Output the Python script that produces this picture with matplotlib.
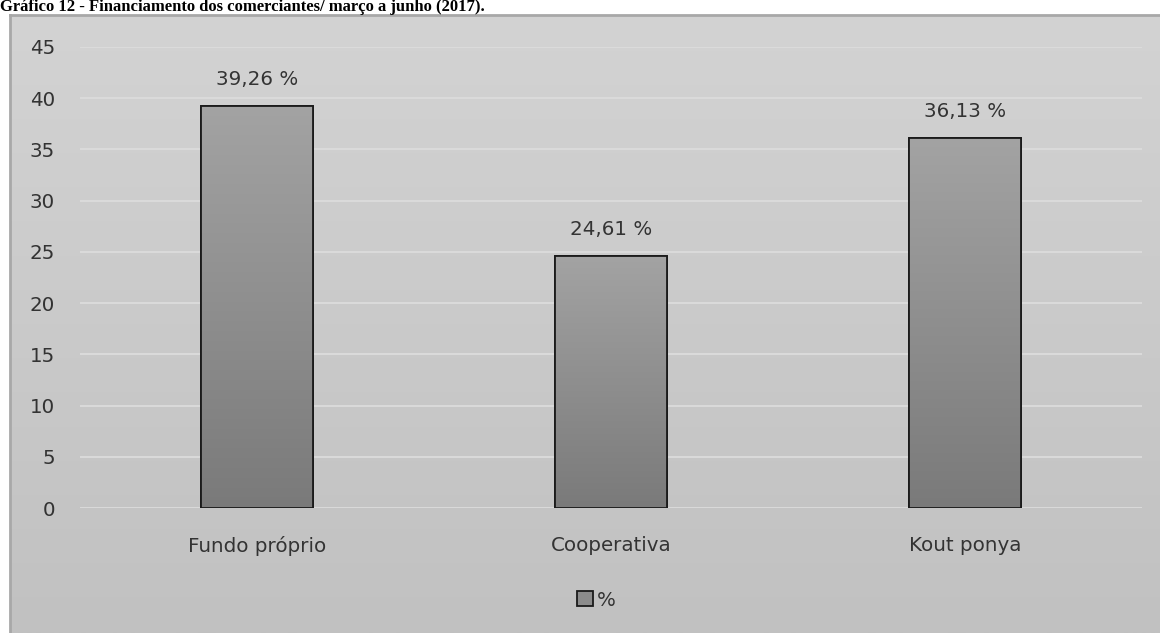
import numpy as np
import matplotlib
matplotlib.use("Agg")
import matplotlib.pyplot as plt
from matplotlib.patches import Rectangle, Patch

categories = ["Fundo próprio", "Cooperativa", "Kout ponya"]
values = [39.26, 24.61, 36.13]
value_labels = ["39,26 %", "24,61 %", "36,13 %"]
yticks = [0, 5, 10, 15, 20, 25, 30, 35, 40, 45]
title = "Gráfico 12 - Financiamento dos comerciantes/ março a junho (2017)."
legend_label = "%"

W, H = 1160, 633
fig = plt.figure(figsize=(W / 100, H / 100), dpi=100)
fig.patch.set_facecolor("white")

# chart background (gradient panel with border)
bg = fig.add_axes([10 / W, 0, 1 - 10 / W, 1 - 15 / H])
grad = np.linspace(0, 1, 256).reshape(-1, 1)
bg.imshow(grad, aspect="auto", cmap=matplotlib.colors.LinearSegmentedColormap.from_list(
    "bg", ["#d3d3d3", "#c1c1c1"]), extent=[0, 1, 0, 1], origin="upper")
bg.set_xlim(0, 1)
bg.set_ylim(0, 1)
bg.set_xticks([])
bg.set_yticks([])
for s in ["top", "left"]:
    bg.spines[s].set_color("#a8a8a8")
    bg.spines[s].set_linewidth(2)
for s in ["right", "bottom"]:
    bg.spines[s].set_visible(False)

# title above the chart panel
fig.text(0.0, 1 - 11 / H, title, family="Liberation Serif", fontweight="bold",
         fontsize=12, ha="left", va="baseline", color="black")

# plot area
x0, x1 = 80, 1142
y45, y0 = 47, 508
ax = fig.add_axes([x0 / W, 1 - y0 / H, (x1 - x0) / W, (y0 - y45) / H])
ax.set_facecolor("none")
ax.set_xlim(-0.5, len(categories) - 0.5)
ax.set_ylim(0, 45)
for t in yticks:
    ax.axhline(t, color="#dcdcdc", lw=1.3, zorder=0)

fs = 14.3
xs = np.arange(len(categories))
bars = ax.bar(xs, values, width=0.315, color="#8c8c8c", edgecolor="#1a1a1a", lw=1.3, zorder=2)
bar_cmap = matplotlib.colors.LinearSegmentedColormap.from_list("bar", ["#a3a3a3", "#7a7a7a"])
for b in bars:
    bx, by, bw, bh = b.get_x(), b.get_y(), b.get_width(), b.get_height()
    im = ax.imshow(grad, aspect="auto", cmap=bar_cmap, extent=[bx, bx + bw, by, by + bh],
                   origin="upper", zorder=2.5)
    im.set_clip_path(b)
    ax.add_patch(Rectangle((bx, by), bw, bh, fill=False, edgecolor="#1a1a1a", lw=1.3, zorder=3))

for x, v, lab in zip(xs, values, value_labels):
    ax.annotate(lab, (x, v), xytext=(0, 15), textcoords="offset points", ha="center",
                va="baseline", fontsize=fs, color="#333333")

ax.set_xticks(xs)
ax.set_xticklabels(categories, fontsize=fs, color="#333333")
ax.set_yticks(yticks)
ax.set_yticklabels([str(t) for t in yticks], fontsize=fs, color="#333333")
ax.tick_params(length=0)
ax.tick_params(axis="x", pad=20)
ax.tick_params(axis="y", pad=18)
for s in ax.spines.values():
    s.set_visible(False)
ax.set_xlim(-0.5, len(categories) - 0.5)
ax.set_ylim(0, 45)

handle = Patch(facecolor="#8c8c8c", edgecolor="#1a1a1a", lw=1.3)
fig.legend([handle], [legend_label], loc="center", bbox_to_anchor=(596 / W, 1 - 600 / H),
           frameon=False, fontsize=fs, handlelength=0.8, handleheight=0.8, handletextpad=0.2,
           labelcolor="#333333")

fig.savefig("out.png", dpi=100)
